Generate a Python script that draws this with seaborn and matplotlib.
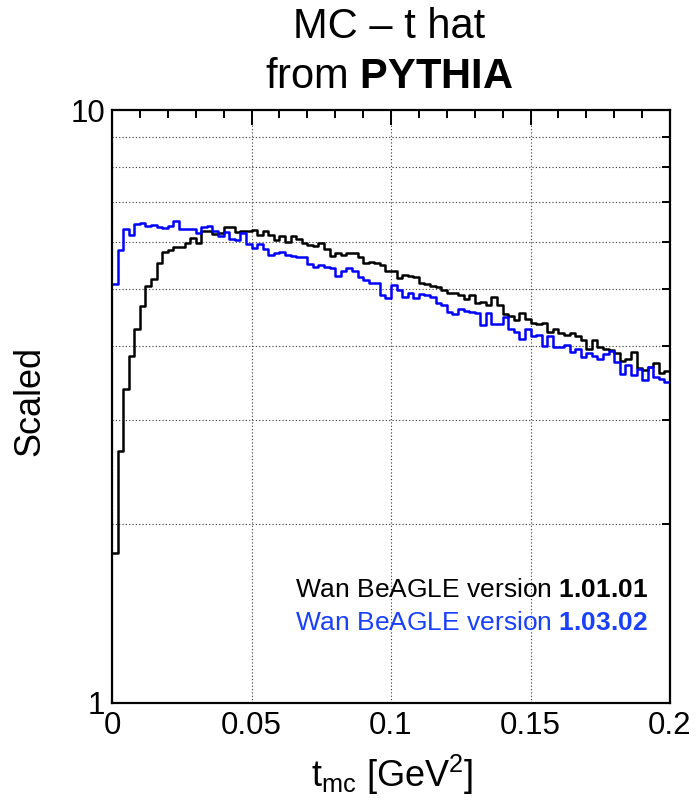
import numpy as np
import pandas as pd
import matplotlib
matplotlib.use("Agg")
import matplotlib.pyplot as plt
import matplotlib.ticker as mticker
import seaborn as sns

# ---- data -------------------------------------------------------------
x_min, x_max, n_bins = 0.0, 0.2, 100

v1_01_01 = [1.79, 2.66, 3.38, 3.84, 4.28, 4.67, 5.04, 5.18, 5.53, 5.76,
            5.80, 5.87, 5.87, 5.97, 6.08, 5.97, 6.26, 6.26, 6.18, 6.21,
            6.35, 6.35, 6.23, 6.26, 6.26, 6.28, 6.16, 6.25, 6.15, 6.04,
            6.13, 5.99, 6.13, 6.06, 5.96, 5.93, 5.90, 5.96, 5.84, 5.68,
            5.73, 5.70, 5.75, 5.75, 5.64, 5.52, 5.54, 5.52, 5.48, 5.35,
            5.36, 5.20, 5.27, 5.25, 5.22, 5.10, 5.09, 5.05, 5.02, 4.98,
            4.91, 4.92, 4.88, 4.80, 4.88, 4.72, 4.75, 4.69, 4.84, 4.69,
            4.53, 4.49, 4.42, 4.54, 4.45, 4.38, 4.36, 4.38, 4.23, 4.27,
            4.20, 4.17, 4.20, 4.15, 4.10, 3.96, 4.10, 3.99, 3.96, 3.94,
            3.89, 3.78, 3.81, 3.90, 3.67, 3.64, 3.69, 3.75, 3.60, 3.63]

v1_03_02 = [5.09, 5.81, 6.30, 6.15, 6.42, 6.45, 6.37, 6.40, 6.35, 6.32,
            6.38, 6.50, 6.30, 6.30, 6.30, 6.20, 6.34, 6.37, 6.26, 6.13,
            6.22, 6.05, 6.04, 6.20, 5.94, 5.86, 5.94, 5.84, 5.70, 5.75,
            5.77, 5.70, 5.68, 5.66, 5.66, 5.49, 5.44, 5.48, 5.44, 5.41,
            5.24, 5.35, 5.42, 5.35, 5.22, 5.17, 5.10, 5.10, 4.88, 4.81,
            5.07, 4.98, 4.84, 4.91, 4.81, 4.90, 4.88, 4.84, 4.72, 4.69,
            4.57, 4.53, 4.61, 4.59, 4.57, 4.55, 4.34, 4.55, 4.36, 4.36,
            4.48, 4.27, 4.23, 4.11, 4.27, 4.15, 4.17, 4.00, 4.15, 3.99,
            3.99, 4.02, 3.91, 3.95, 3.83, 3.89, 3.84, 3.81, 3.88, 3.93,
            3.76, 3.59, 3.71, 3.58, 3.66, 3.51, 3.68, 3.54, 3.52, 3.48]

labels = ["Wan BeAGLE version ", "Wan BeAGLE version "]
versions = ["1.01.01", "1.03.02"]
line_colors = ["#000000", "#0000ff"]
text_colors = ["#000000", "#1a40ff"]

x_ticks = [0, 0.05, 0.1, 0.15, 0.2]
y_ticks = [1, 10]

# ---- style ------------------------------------------------------------
sns.set_style("white")
plt.rcParams["font.family"] = ["Liberation Sans", "DejaVu Sans"]
plt.rcParams["mathtext.fontset"] = "custom"
plt.rcParams["mathtext.rm"] = "Liberation Sans"
plt.rcParams["mathtext.it"] = "Liberation Sans:italic"
plt.rcParams["mathtext.bf"] = "Liberation Sans:bold"
for key in ["text.color", "axes.labelcolor", "xtick.color", "ytick.color",
            "axes.edgecolor"]:
    plt.rcParams[key] = "black"

fig = plt.figure(figsize=(6.97, 8.02), dpi=100)
ax = fig.add_axes([112 / 697, 1 - 703 / 802, 558 / 697, 593 / 802])

edges = np.linspace(x_min, x_max, n_bins + 1)
centers = 0.5 * (edges[:-1] + edges[1:])

for vals, col in zip([v1_01_01, v1_03_02], line_colors):
    df = pd.DataFrame({"t": centers, "w": np.asarray(vals, dtype=float)})
    sns.histplot(data=df, x="t", weights="w", bins=n_bins,
                 binrange=(x_min, x_max), element="step",
                 fill=False, color=col, linewidth=1.8, ax=ax)

ax.set_yscale("log")
ax.set_xlim(x_min, x_max)
ax.set_ylim(1, 10)

ax.xaxis.set_major_locator(mticker.FixedLocator(x_ticks))
ax.xaxis.set_minor_locator(mticker.MultipleLocator(0.01))
ax.xaxis.set_major_formatter(mticker.FuncFormatter(lambda v, p: f"{v:g}"))
ax.yaxis.set_major_locator(mticker.FixedLocator(y_ticks))
ax.yaxis.set_minor_locator(mticker.LogLocator(base=10, subs=range(2, 10)))
ax.yaxis.set_major_formatter(mticker.FuncFormatter(lambda v, p: f"{v:g}"))
ax.yaxis.set_minor_formatter(mticker.NullFormatter())

ax.tick_params(which="both", direction="in", top=True, right=True,
               width=1.4, color="black", labelcolor="black")
ax.tick_params(which="major", length=11, labelsize=22.5, pad=5)
ax.tick_params(which="minor", length=5.5)
ax.tick_params(axis="x", which="major", pad=6)

for s in ax.spines.values():
    s.set_linewidth(1.6)
    s.set_color("black")

ax.grid(False)
ax.grid(which="major", axis="x", linestyle=(0, (1, 2)), color="#333333", linewidth=0.8)
ax.grid(which="minor", axis="y", linestyle=(0, (1, 2)), color="#333333", linewidth=0.8)
ax.set_axisbelow(True)

ax.set_ylabel("Scaled", fontsize=26, va="center", color="black")
ax.yaxis.set_label_coords(-0.147, 0.509)
ax.set_xlabel(r"t$_{\rm mc}$ [GeV$^{2}$]", fontsize=26, va="center", color="black")
ax.xaxis.set_label_coords(0.503, -0.122)

# legend-like texts
for i, (lab, ver, tc) in enumerate(zip(labels, versions, text_colors)):
    ax.text(0.9606, 0.179 - i * 0.056, lab + r"$\mathbf{" + ver + "}$",
            transform=ax.transAxes, ha="right", va="baseline",
            fontsize=19, color=tc)

fig.text(0.558, 1 - 27 / 802, "MC – t hat", ha="center", va="center",
         fontsize=30, color="black")
fig.text(0.558, 1 - 77 / 802, r"from $\mathbf{PYTHIA}$", ha="center", va="center",
         fontsize=30, color="black")

fig.savefig("out.png", dpi=100)
